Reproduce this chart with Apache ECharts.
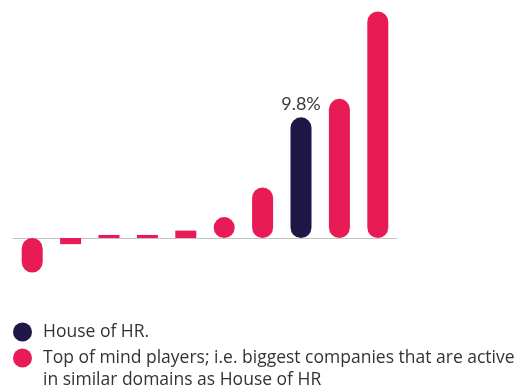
<!DOCTYPE html>
<html>
<head>
<meta charset="utf-8">
<script src="https://cdn.jsdelivr.net/npm/echarts@6/dist/echarts.min.js"></script>
<style>
html,body{margin:0;padding:0;background:#fff;}
#chart{width:516px;height:387px;}
</style>
</head>
<body>
<div id="chart"></div>
<script>
// Data
var categories = ['P1','P2','P3','P4','P5','P6','P7','House of HR','P9','P10'];
var values = [-2.8, -0.5, 0.25, 0.25, 0.6, 1.7, 4.1, 9.8, 11.3, 18.4];
var highlightIndex = 7;
var highlightLabel = '9.8%';
var legendLabels = ['House of HR.', 'Top of mind players; i.e. biggest companies that are active', 'in similar domains as House of HR'];

var PINK = '#E81B57';
var NAVY = '#211747';
var FONT = '"Open Sans", Lato, sans-serif';
var LABEL_FONT = 'Lato, "Open Sans", sans-serif';

function radiusFor(v){ return Math.abs(v) >= 1 ? 10.5 : 0; }

var houseData = values.map(function(v, i){
  if (i !== highlightIndex) return '-';
  return { value: v, itemStyle: { borderRadius: radiusFor(v) } };
});
var otherData = values.map(function(v, i){
  if (i === highlightIndex) return '-';
  return { value: v, itemStyle: { borderRadius: radiusFor(v) } };
});

var seriesNames = [legendLabels[0], legendLabels[1] + ' ' + legendLabels[2]];

var chart = echarts.init(document.getElementById('chart'), null, {renderer:'canvas'});
chart.setOption({
  animation: false,
  backgroundColor: '#fff',
  grid: { left: 13, right: 119, top: 4, bottom: 99.74, containLabel: false },
  xAxis: {
    type: 'category', data: categories,
    axisLine: { show: true, lineStyle: { color: '#c4c4c4', width: 1 } },
    axisTick: { show: false }, axisLabel: { show: false }, splitLine: { show: false }
  },
  yAxis: {
    type: 'value', min: -4, max: 19, show: false, splitLine: { show: false }
  },
  legend: [
    {
      data: [seriesNames[0]], left: 13, top: 322.5, orient: 'vertical', padding: 0,
      icon: 'circle', itemWidth: 19, itemHeight: 19, itemGap: 0, selectedMode: false,
      textStyle: { fontFamily: FONT, fontSize: 17.5, color: '#333', padding: [0,0,0,6] }
    },
    {
      data: [seriesNames[1]], left: 13, top: 325, orient: 'vertical', padding: 0,
      icon: 'circle', itemWidth: 19, itemHeight: 19, itemGap: 0, selectedMode: false,
      formatter: function(){ return '\n' + legendLabels[1] + '\n' + legendLabels[2]; },
      textStyle: { fontFamily: FONT, fontSize: 17.5, color: '#333', lineHeight: 22, padding: [0,0,0,6] }
    }
  ],
  series: [
    {
      name: seriesNames[0], type: 'bar', data: houseData, barWidth: 21, barGap: '-100%',
      itemStyle: { color: NAVY },
      label: {
        show: true, position: 'top', distance: 4,
        formatter: function(){ return highlightLabel; },
        fontFamily: LABEL_FONT, fontSize: 18, color: '#3a3a3a'
      }
    },
    {
      name: seriesNames[1], type: 'bar', data: otherData, barWidth: 21, barGap: '-100%',
      itemStyle: { color: PINK }
    }
  ]
});
</script>
</body>
</html>
